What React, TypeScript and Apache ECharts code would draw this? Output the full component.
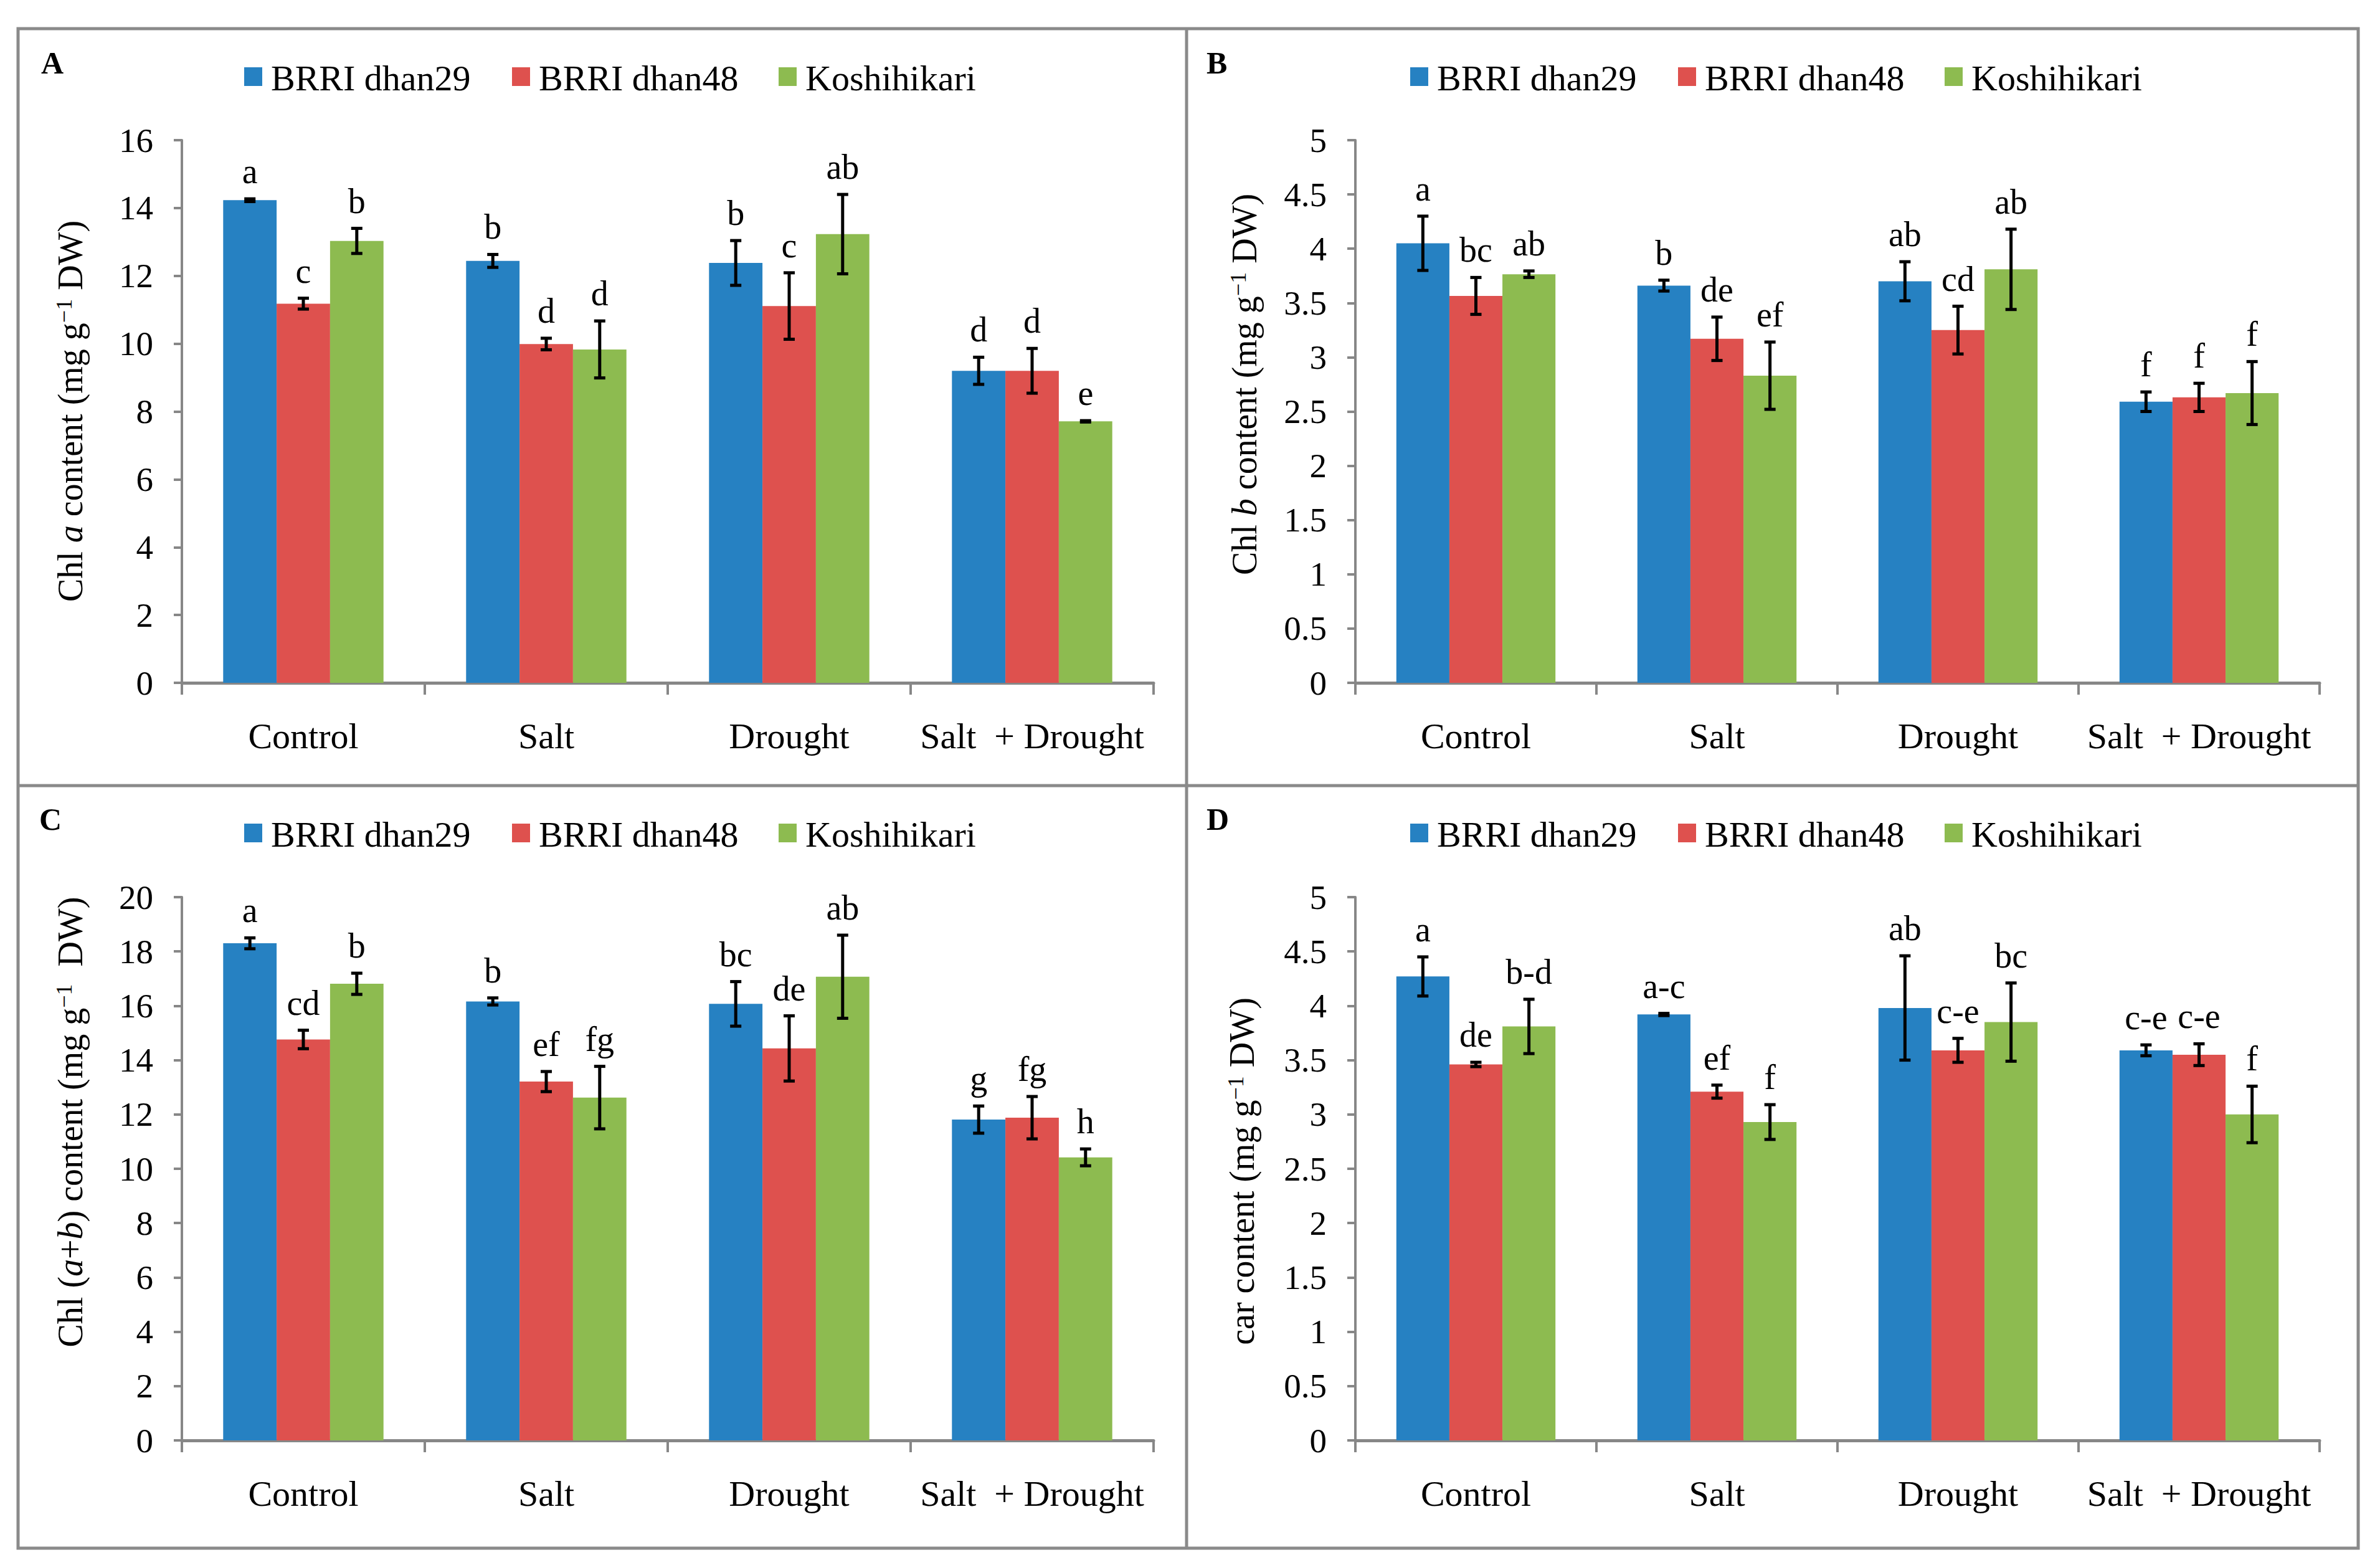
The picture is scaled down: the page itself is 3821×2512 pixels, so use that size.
import React, { useEffect, useRef } from 'react';
import * as echarts from 'echarts';

const categories = ['Control', 'Salt', 'Drought', 'Salt  + Drought'];
const cultivars = ['BRRI dhan29', 'BRRI dhan48', 'Koshihikari'];
const colors = ['#2681C2', '#DE514E', '#8DBB50'];

// Panel A: Chl a
const aDhan29 = [14.23, 12.44, 12.38, 9.2];
const aDhan48 = [11.18, 9.99, 11.11, 9.2];
const aKoshi = [13.03, 9.83, 13.23, 7.71];
const aErr29 = [0.04, 0.19, 0.66, 0.4];
const aErr48 = [0.16, 0.17, 0.98, 0.66];
const aErrK = [0.37, 0.84, 1.17, 0.02];
const aLet29 = ['a', 'b', 'b', 'd'];
const aLet48 = ['c', 'd', 'c', 'd'];
const aLetK = ['b', 'd', 'ab', 'e'];

// Panel B: Chl b
const bDhan29 = [4.05, 3.66, 3.7, 2.59];
const bDhan48 = [3.565, 3.17, 3.25, 2.63];
const bKoshi = [3.765, 2.83, 3.81, 2.67];
const bErr29 = [0.25, 0.05, 0.18, 0.09];
const bErr48 = [0.17, 0.2, 0.22, 0.13];
const bErrK = [0.03, 0.31, 0.37, 0.29];
const bLet29 = ['a', 'b', 'ab', 'f'];
const bLet48 = ['bc', 'de', 'cd', 'f'];
const bLetK = ['ab', 'ef', 'ab', 'f'];

// Panel C: Chl (a+b)
const cDhan29 = [18.3, 16.16, 16.07, 11.81];
const cDhan48 = [14.76, 13.21, 14.43, 11.88];
const cKoshi = [16.81, 12.62, 17.07, 10.42];
const cErr29 = [0.2, 0.13, 0.82, 0.5];
const cErr48 = [0.34, 0.37, 1.2, 0.78];
const cErrK = [0.39, 1.15, 1.53, 0.31];
const cLet29 = ['a', 'b', 'bc', 'g'];
const cLet48 = ['cd', 'ef', 'de', 'fg'];
const cLetK = ['b', 'fg', 'ab', 'h'];

// Panel D: car
const dDhan29 = [4.27, 3.92, 3.98, 3.59];
const dDhan48 = [3.46, 3.21, 3.59, 3.55];
const dKoshi = [3.81, 2.93, 3.85, 3.0];
const dErr29 = [0.18, 0.01, 0.48, 0.05];
const dErr48 = [0.02, 0.06, 0.11, 0.1];
const dErrK = [0.25, 0.16, 0.36, 0.26];
const dLet29 = ['a', 'a-c', 'ab', 'c-e'];
const dLet48 = ['de', 'ef', 'c-e', 'c-e'];
const dLetK = ['b-d', 'f', 'bc', 'f'];

const yMax = [16, 5, 20, 5];
const yInterval = [2, 0.5, 2, 0.5];
const panelLetters = ['A', 'B', 'C', 'D'];
const yTitles = [
  '{n|Chl }{i|a}{n| content (mg g}{s|\u22121}{n| DW)}',
  '{n|Chl }{i|b}{n| content (mg g}{s|\u22121}{n| DW)}',
  '{n|Chl (}{i|a}{n|+}{i|b}{n|) content (mg g}{s|\u22121}{n|  DW)}',
  '{n|car content (mg g}{s|\u22121}{n| DW)}',
];

const panels = [
  { vals: [aDhan29, aDhan48, aKoshi], errs: [aErr29, aErr48, aErrK], lets: [aLet29, aLet48, aLetK] },
  { vals: [bDhan29, bDhan48, bKoshi], errs: [bErr29, bErr48, bErrK], lets: [bLet29, bLet48, bLetK] },
  { vals: [cDhan29, cDhan48, cKoshi], errs: [cErr29, cErr48, cErrK], lets: [cLet29, cLet48, cLetK] },
  { vals: [dDhan29, dDhan48, dKoshi], errs: [dErr29, dErr48, dErrK], lets: [dLet29, dLet48, dLetK] },
];

// layout
const FONT = 'Liberation Serif';
const AXIS_COLOR = '#878787';
const BORDER_COLOR = '#8a8a8a';
const GAP = 0.34;
const grids = [
  { left: 292, top: 225, width: 1560, height: 871 },
  { left: 2176, top: 225, width: 1548, height: 871 },
  { left: 292, top: 1440, width: 1560, height: 872 },
  { left: 2176, top: 1440, width: 1548, height: 872 },
];
const legendPos = [
  { left: 392, cy: 123 },
  { left: 2264, cy: 123 },
  { left: 392, cy: 1337 },
  { left: 2264, cy: 1337 },
];
const legendOffsets = [0, 430, 858];
const letterPos = [
  { x: 66, y: 101 },
  { x: 1937, y: 101 },
  { x: 63, y: 1315 },
  { x: 1937, y: 1315 },
];
const titlePos = [
  { x: 113, y: 660 },
  { x: 1998, y: 617 },
  { x: 113, y: 1801 },
  { x: 1994, y: 1880 },
];

function makeRender(p: number) {
  const { vals, errs, lets } = panels[p];
  return (params: any, api: any) => {
    const k = params.dataIndex;
    const s = Math.floor(k / 4);
    const i = k % 4;
    const v = vals[s][i];
    const e = errs[s][i];
    const band = api.size([1, 0])[0];
    const bw = (band * (1 - GAP)) / 3;
    const cx = api.coord([i, v])[0] + (s - 1) * bw;
    const yTop = api.coord([i, v + e])[1];
    const yBot = api.coord([i, v - e])[1];
    const cap = 9;
    const ls = { stroke: '#000', lineWidth: 5 };
    return {
      type: 'group',
      children: [
        { type: 'line', shape: { x1: cx, y1: yTop, x2: cx, y2: yBot }, style: ls },
        { type: 'line', shape: { x1: cx - cap, y1: yTop, x2: cx + cap, y2: yTop }, style: ls },
        { type: 'line', shape: { x1: cx - cap, y1: yBot, x2: cx + cap, y2: yBot }, style: ls },
        {
          type: 'text',
          x: cx,
          y: yTop - 16,
          style: {
            text: lets[s][i],
            fontSize: 56,
            fontFamily: FONT,
            fill: '#000',
            align: 'center',
            verticalAlign: 'bottom',
          },
        },
      ],
    };
  };
}

export default function App() {
  const ref = useRef<HTMLDivElement>(null);
  useEffect(() => {
    document.body.style.margin = '0';
    const chart = echarts.init(ref.current!, null, { renderer: 'svg' });
    const series: any[] = [];
    panels.forEach((pn, p) => {
      pn.vals.forEach((vs, s) => {
        series.push({
          type: 'bar',
          name: cultivars[s],
          xAxisIndex: p,
          yAxisIndex: p,
          data: vs,
          itemStyle: { color: colors[s] },
          barGap: '0%',
          barCategoryGap: GAP * 100 + '%',
        });
      });
      const cdata: number[][] = [];
      for (let s = 0; s < 3; s++) for (let i = 0; i < 4; i++) cdata.push([i, pn.vals[s][i] + pn.errs[s][i]]);
      series.push({
        type: 'custom',
        xAxisIndex: p,
        yAxisIndex: p,
        data: cdata,
        renderItem: makeRender(p),
        z: 5,
        silent: true,
      });
    });

    const graphic: any[] = [
      { type: 'rect', shape: { x: 29, y: 46, width: 3757, height: 2439 }, style: { fill: 'none', stroke: BORDER_COLOR, lineWidth: 5 } },
      { type: 'line', shape: { x1: 1905, y1: 46, x2: 1905, y2: 2485 }, style: { stroke: BORDER_COLOR, lineWidth: 5 } },
      { type: 'line', shape: { x1: 29, y1: 1261, x2: 3786, y2: 1261 }, style: { stroke: BORDER_COLOR, lineWidth: 5 } },
    ];
    panelLetters.forEach((l, p) => {
      graphic.push({
        type: 'text',
        x: letterPos[p].x,
        y: letterPos[p].y,
        style: {
          text: l,
          fontSize: 50,
          fontWeight: 'bold',
          fontFamily: FONT,
          fill: '#000',
          align: 'left',
          verticalAlign: 'middle',
        },
      });
      graphic.push({
        type: 'text',
        x: titlePos[p].x,
        y: titlePos[p].y,
        rotation: Math.PI / 2,
        style: {
          text: yTitles[p],
          fill: '#000',
          align: 'center',
          verticalAlign: 'middle',
          rich: {
            n: { fontSize: 56, fontFamily: FONT, fill: '#000' },
            i: { fontSize: 56, fontFamily: FONT, fontStyle: 'italic', fill: '#000' },
            s: { fontSize: 36, fontFamily: FONT, fill: '#000', verticalAlign: 'top' },
          },
        },
      });
      // legend (drawn as graphic for exact serif typography)
      cultivars.forEach((name, s) => {
        const lx = legendPos[p].left + legendOffsets[s];
        const cy = legendPos[p].cy;
        graphic.push({
          type: 'rect',
          shape: { x: lx, y: cy - 15, width: 29, height: 30 },
          style: { fill: colors[s] },
        });
        graphic.push({
          type: 'text',
          x: lx + 43,
          y: cy + 2,
          style: {
            text: name,
            fontSize: 58,
            fontFamily: FONT,
            fill: '#000',
            align: 'left',
            verticalAlign: 'middle',
          },
        });
      });
    });

    const option: any = {
      animation: false,
      backgroundColor: '#fff',
      textStyle: { fontFamily: FONT },
      grid: grids.map((g) => ({ ...g, containLabel: false })),
      xAxis: grids.map((_, p) => ({
        type: 'category',
        gridIndex: p,
        data: categories,
        axisLine: { lineStyle: { color: AXIS_COLOR, width: 5 } },
        axisTick: { show: true, interval: 0, length: 19, lineStyle: { color: AXIS_COLOR, width: 4 } },
        axisLabel: { interval: 0, fontSize: 58, fontFamily: FONT, color: '#000', margin: 56 },
        splitLine: { show: false },
      })),
      yAxis: grids.map((_, p) => ({
        type: 'value',
        gridIndex: p,
        min: 0,
        max: yMax[p],
        interval: yInterval[p],
        axisLine: { show: true, lineStyle: { color: AXIS_COLOR, width: 4 } },
        axisTick: { show: true, length: 13, lineStyle: { color: AXIS_COLOR, width: 4 } },
        axisLabel: { fontSize: 55, fontFamily: FONT, color: '#000', margin: 46 },
        splitLine: { show: false },
      })),
      series,
      graphic,
    };
    chart.setOption(option);
    return () => chart.dispose();
  }, []);
  return <div ref={ref} style={{ position: 'absolute', left: 0, top: 0, width: 3821, height: 2512 }} />;
}
